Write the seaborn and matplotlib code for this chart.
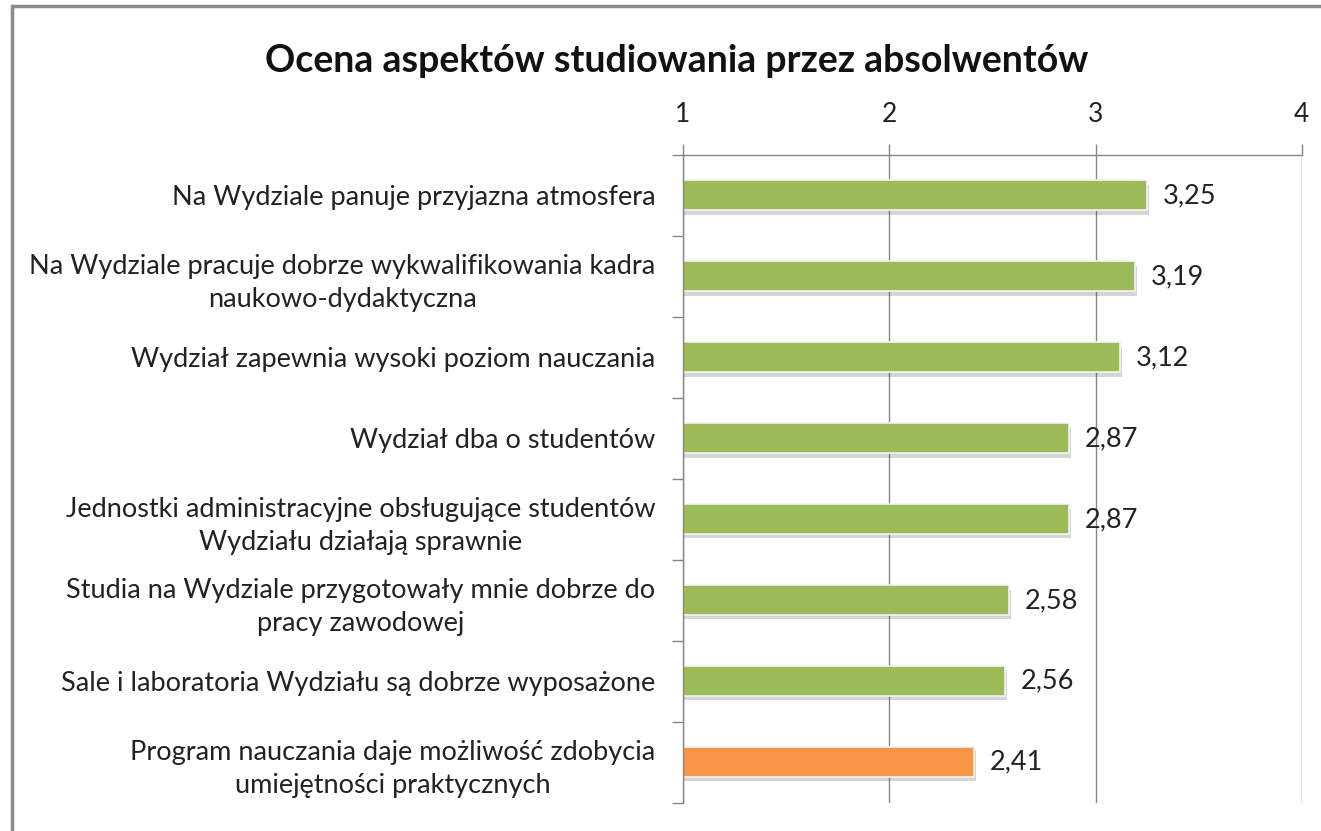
import seaborn as sns
import pandas as pd
import matplotlib.pyplot as plt
import matplotlib.patheffects as pe
from matplotlib.patches import Rectangle

sns.set_theme(style="white")
plt.rcParams["font.family"] = ["Lato", "DejaVu Sans"]

categories = [
    "Na Wydziale panuje przyjazna atmosfera",
    "Na Wydziale pracuje dobrze wykwalifikowania kadra\nnaukowo-dydaktyczna",
    "Wydział zapewnia wysoki poziom nauczania",
    "Wydział dba o studentów",
    "Jednostki administracyjne obsługujące studentów\nWydziału działają sprawnie",
    "Studia na Wydziale przygotowały mnie dobrze do\npracy zawodowej",
    "Sale i laboratoria Wydziału są dobrze wyposażone",
    "Program nauczania daje możliwość zdobycia\numiejętności praktycznych",
]
scores = [3.25, 3.19, 3.12, 2.87, 2.87, 2.58, 2.56, 2.41]
bar_colors = ["#9BBB59"] * 7 + ["#F79646"]
x_ticks = [1, 2, 3, 4]

data = pd.DataFrame({"aspect": categories, "score": scores})

fig = plt.figure(figsize=(13.21, 8.31), dpi=100)
ax = fig.add_axes([0.517, 0.034, 0.4685, 0.7795])

sns.barplot(
    data=data,
    y="aspect",
    x="score",
    hue="aspect",
    palette=bar_colors,
    saturation=1,
    width=0.37,
    orient="h",
    legend=False,
    ax=ax,
    edgecolor="#F4F4F4",
    linewidth=1.2,
)
for patch in ax.patches:
    patch.set_path_effects([
        pe.SimplePatchShadow(offset=(1.5, -3), alpha=0.22, shadow_rgbFace="#404040"),
        pe.Normal(),
    ])

ax.set_xlim(1, 4)
ax.set_ylim(len(categories) - 0.5, -0.5)
ax.set_xticks(x_ticks)
ax.set_xticklabels([str(t) for t in x_ticks])
ax.xaxis.tick_top()
ax.tick_params(axis="x", direction="out", length=8, width=1, color="#868686",
               labelsize=19, labelcolor="#222222", pad=12, top=True, bottom=False)

ax.set_yticks(range(len(categories)))
ax.set_yticklabels(categories, linespacing=1.4)
ax.set_yticks([i - 0.5 for i in range(len(categories) + 1)], minor=True)
ax.tick_params(axis="y", which="major", length=0, labelsize=19.5, labelcolor="#222222", pad=20)
ax.tick_params(axis="y", which="minor", length=8, width=1, color="#868686", left=True)
plt.setp(ax.get_yticklabels(), multialignment="center")

ax.grid(axis="x", color="#868686", linewidth=1)
ax.set_axisbelow(True)
for side in ["right", "bottom"]:
    ax.spines[side].set_visible(False)
for side in ["top", "left"]:
    ax.spines[side].set_color("#868686")
    ax.spines[side].set_linewidth(1)

ax.set_xlabel("")
ax.set_ylabel("")

for i, v in enumerate(scores):
    ax.annotate(f"{v:.2f}".replace(".", ","), xy=(v, i), xytext=(11.5, 0),
                textcoords="offset points", va="center", ha="left",
                fontsize=19.5, color="#222222")

fig.text(0.512, 0.927, "Ocena aspektów studiowania przez absolwentów",
         ha="center", va="center", fontsize=27, fontweight="bold", color="#111111")

fig.patches.append(Rectangle((12 / 1321, -0.1), 1.2, 1.1 - 6 / 831,
                             transform=fig.transFigure, fill=False,
                             edgecolor="#8C8C8C", linewidth=2.5, zorder=0))

fig.savefig("out.png", dpi=100)
